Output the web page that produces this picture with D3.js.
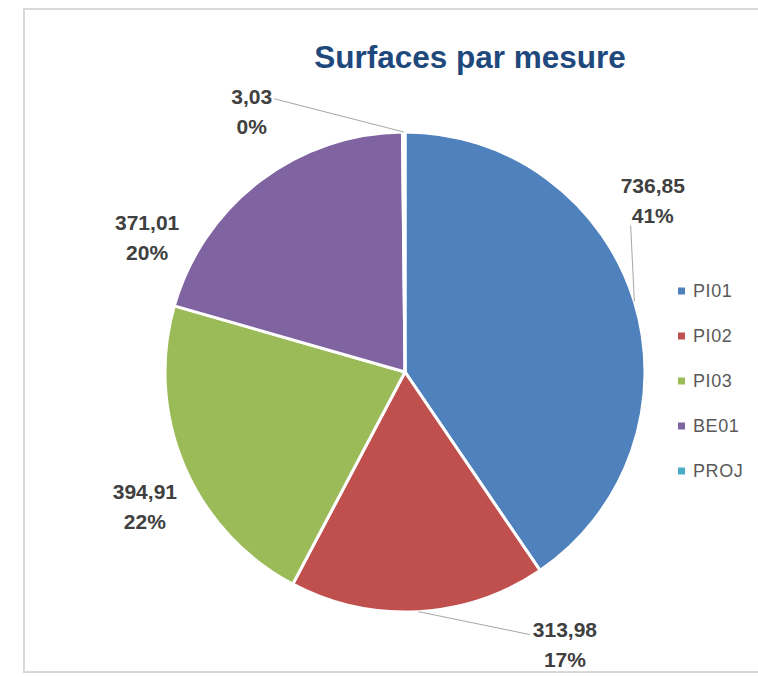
<!DOCTYPE html>
<head>
  <meta charset="utf-8">
  <script src="https://d3js.org/d3.v7.min.js"></script>
  <style>
    body { margin: 0; background: #fff; font-family: "Liberation Sans", Arial, sans-serif; overflow: hidden; }
    .frame { fill: none; stroke: #d9d9d9; stroke-width: 2; }
    .title { fill: #1f497d; font-weight: bold; font-size: 31.5px; }
    .lbl { fill: #404040; font-weight: bold; font-size: 21px; }
    .leader { stroke: #a6a6a6; stroke-width: 1; fill: none; }
    .legend text { fill: #595959; font-size: 18px; letter-spacing: 0.6px; }
    .slice { stroke: #fff; stroke-width: 3; }
  </style>
</head>
<body>
  <div id="chart"></div>
  <script>
    // data
    var categories = ["PI01", "PI02", "PI03", "BE01", "PROJ"];
    var values = [736.85, 313.98, 394.91, 371.01, 3.03];
    var percentLabels = ["41%", "17%", "22%", "20%", "0%"];   // as printed on the chart
    var colors = ["#4f81bd", "#c0504d", "#9bbb59", "#8064a2", "#4bacc6"];

    // label placement (angle in degrees clockwise from top, distance from centre, leader side)
    var labelAngle = [55.4, 149.6, 242.6, 297.6, 329.5];
    var labelDist = [301, 316, 293, 291, 302];
    var labelLeader = ["bottom", "left", null, null, "right"];

    var width = 758, height = 677;
    var cx = 405, cy = 372, radius = 240;

    var fr = d3.formatLocale({decimal: ",", thousands: " ", grouping: [3], currency: ["", " €"]});
    var fmtVal = fr.format(".2f");

    var svg = d3.select("#chart").append("svg")
      .attr("width", width)
      .attr("height", height)
      .style("display", "block");

    // chart area border: top, left and bottom edges only (right edge is cut off)
    svg.append("polyline")
      .attr("class", "frame")
      .attr("points", [[width + 5, 9], [24, 9], [24, 672], [width + 5, 672]].join(" "));

    svg.append("text")
      .attr("class", "title")
      .attr("x", 470)
      .attr("y", 68)
      .attr("text-anchor", "middle")
      .text("Surfaces par mesure");

    var rows = categories.map(function(c, i) {
      return {name: c, value: values[i], pct: percentLabels[i], color: colors[i],
              la: labelAngle[i], ld: labelDist[i], lead: labelLeader[i]};
    });

    var pie = d3.pie().sort(null).value(function(d) { return d.value; });
    var arc = d3.arc().innerRadius(0).outerRadius(radius);
    var arcs = pie(rows);

    var g = svg.append("g").attr("transform", "translate(" + cx + "," + cy + ")");

    g.selectAll("path.slice")
        .data(arcs)
      .enter().append("path")
        .attr("class", "slice")
        .attr("d", arc)
        .style("fill", function(d) { return d.data.color; });

    function polar(a, r) {
      var rad = a * Math.PI / 180;
      return [r * Math.sin(rad), -r * Math.cos(rad)];
    }

    var lbls = g.selectAll("g.lbl")
        .data(arcs)
      .enter().append("g")
        .attr("transform", function(d) {
          var p = polar(d.data.la, d.data.ld);
          return "translate(" + p[0] + "," + p[1] + ")";
        });

    lbls.append("text")
      .attr("class", "lbl")
      .attr("text-anchor", "middle")
      .attr("y", -15)
      .attr("dy", "0.35em")
      .text(function(d) { return fmtVal(d.data.value); });

    lbls.append("text")
      .attr("class", "lbl")
      .attr("text-anchor", "middle")
      .attr("y", 15)
      .attr("dy", "0.35em")
      .text(function(d) { return d.data.pct; });

    // leader lines from slice edge to label box
    lbls.each(function(d) {
      if (!d.data.lead) return;
      var box = this.getBBox();
      var p = polar(d.data.la, d.data.ld);
      var mid = (d.startAngle + d.endAngle) / 2 * 180 / Math.PI;
      var s = polar(mid, radius);
      var e;
      if (d.data.lead === "right") e = [p[0] + box.x + box.width + 2, p[1] - 13];
      else if (d.data.lead === "left") e = [p[0] + box.x - 3, p[1] - 10];
      else e = [p[0] + box.x + 10, p[1] + box.y + box.height - 2];
      g.insert("line", "g")
        .attr("class", "leader")
        .attr("x1", s[0]).attr("y1", s[1])
        .attr("x2", e[0]).attr("y2", e[1]);
    });

    var legend = svg.append("g").attr("class", "legend")
      .attr("transform", "translate(678,291)");
    var item = legend.selectAll("g")
        .data(rows)
      .enter().append("g")
        .attr("transform", function(d, i) { return "translate(0," + (i * 45) + ")"; });
    item.append("rect")
      .attr("x", 0).attr("y", -3.5)
      .attr("width", 7).attr("height", 7)
      .style("fill", function(d) { return d.color; });
    item.append("text")
      .attr("x", 15)
      .attr("dy", "0.36em")
      .text(function(d) { return d.name; });
  </script>
</body>
